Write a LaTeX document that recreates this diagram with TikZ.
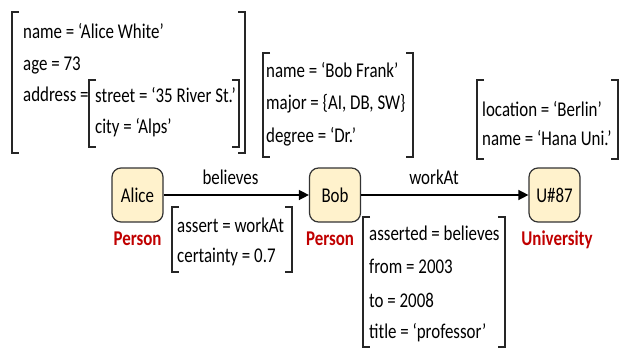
\documentclass[tikz,border=0pt]{standalone}
\usepackage{fontspec}
\setmainfont{Carlito}[FakeStretch=0.805]
\usetikzlibrary{arrows.meta,positioning}
\definecolor{entfill}{HTML}{FFF2CC}
\definecolor{typred}{HTML}{C00000}
\tikzset{ent/.style={draw=black!80, fill=entfill, rounded corners=9pt, line width=1.2pt,
        minimum width=51pt, minimum height=54pt, inner sep=0pt},
    typ/.style={text=typred, font=\bfseries\fontsize{21}{32}\selectfont, anchor=base},
    avm/.style={align=left, inner sep=0pt, anchor=base west},
    brk/.style={line width=1.1pt, draw=black!85},
    rel/.style={line width=1.4pt, -{Triangle[length=10pt,width=10pt]}}}
% square brackets round an attribute list: left, top, right, bottom
\newcommand{\avmbrk}[4]{%
    \draw[brk] (#1+7,#2) -- (#1,#2) -- (#1,#4) -- (#1+7,#4);
    \draw[brk] (#3-7,#2) -- (#3,#2) -- (#3,#4) -- (#3-7,#4);}

\begin{document}
\begin{tikzpicture}[x=1pt, y=-1pt, font=\fontsize{21}{32}\selectfont]
    \useasboundingbox (0,0) rectangle (620,350);
    % entities
    \node[ent] (alice) at (137.5,195) {Alice};
    \node[ent] (bob) at (335,195) {Bob};
    \node[ent] (uni) at (554.5,195) {U\#87};
    \node[typ] (alicetype) at (137.5,245) {Person};
    \node[typ] (bobtype) at (330,245) {Person};
    \node[typ] (unitype) at (557,245) {University};
    % relations
    \draw[rel] (alice) -- (bob);
    \draw[rel] (bob) -- (uni);
    \node[anchor=base] (believeslbl) at (230.5,184) {believes};
    \node[anchor=base] (workatlbl) at (434,184) {workAt};
    % attributes (anchored at the baseline of the last line)
    \node[avm] (aliceattr) at (23,102) {name = ‘Alice White’\\[-0.5pt]age = 73\\[-0.5pt]address =};
    \node[avm] (addrattr) at (95,133) {street = ‘35 River St.’\\[-1pt]city = ‘Alps’};
    \avmbrk{12}{12}{245}{153}
    \avmbrk{89}{80}{239}{147}
    \node[avm] (bobattr) at (266,142) {name = ‘Bob Frank’\\major = \{AI, DB, SW\}\\degree = ‘Dr.’};
    \avmbrk{263}{53}{413}{157}
    \node[avm] (uniattr) at (482,145) {location = ‘Berlin’\\[-3.5pt]name = ‘Hana Uni.’};
    \avmbrk{477}{80}{618}{159}
    \node[avm] (believesattr) at (177,262) {assert = workAt\\[-2pt]certainty = 0.7};
    \avmbrk{172}{207}{292}{272}
    \node[avm] (workatattr) at (369,338) {asserted = believes\\[1.3pt]from = 2003\\[1.3pt]to = 2008\\[-1pt]title = ‘professor’};
    \avmbrk{363}{217}{505}{347}
\end{tikzpicture}
\end{document}
